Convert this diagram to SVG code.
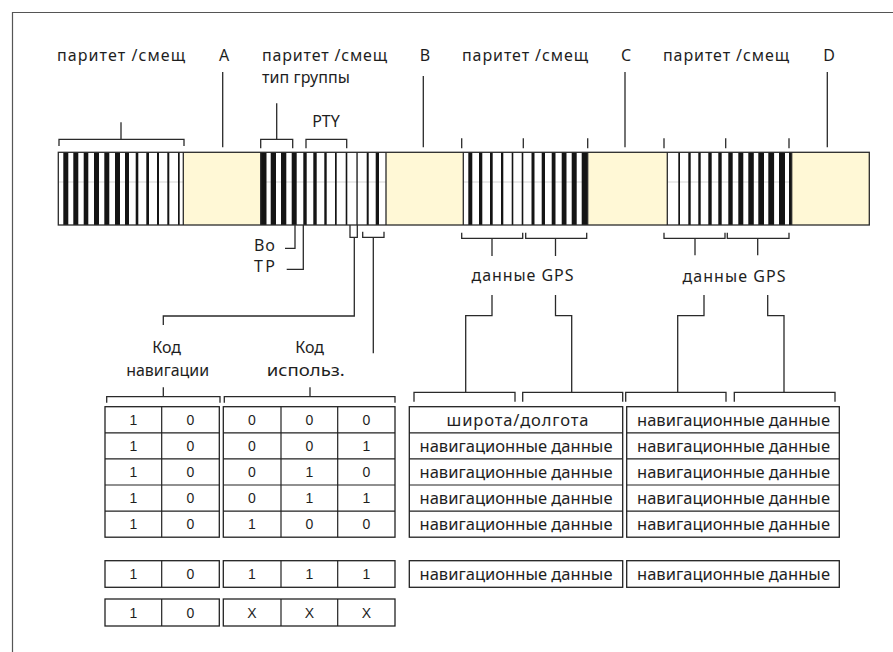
<svg xmlns="http://www.w3.org/2000/svg" width="893" height="652" viewBox="0 0 893 652">
  <style>
    .ln { fill: none; stroke: #2a2a2a; stroke-width: 1.3; }
    .frame { fill: none; stroke: #555; stroke-width: 1.2; }
    .lbl { font-family: "Noto Sans", "Open Sans", sans-serif; font-size: 16px; fill: #1e1e1e; }
    .cell { font-family: "Liberation Sans", Arial, sans-serif; font-size: 14px; fill: #1e1e1e; text-anchor: middle; }
    .nav { font-family: "Noto Sans", "Open Sans", sans-serif; font-size: 16.5px; fill: #1e1e1e; text-anchor: middle; }
    .tbl { fill: #fff; stroke: #222; stroke-width: 1.3; }
    .sep { stroke: #222; stroke-width: 1.2; }
    .yel { fill: #fff8d6; }
    .blk { fill: #141414; }
    .mid { stroke: #bbb; stroke-width: 0.6; }
  </style>

  <!-- outer frame -->
  <path class="frame" d="M12.5,652 V12.5 H893"/>

  <!-- top labels -->
  <g id="labels-top">
    <text class="lbl" x="121" y="60.7" text-anchor="middle" textLength="128" lengthAdjust="spacing">паритет /смещ</text>
    <text class="lbl" x="224" y="60.7" text-anchor="middle">A</text>
    <text class="lbl" x="262" y="60.7" textLength="125" lengthAdjust="spacing">паритет /смещ</text>
    <text class="lbl" x="262" y="83.3" textLength="88" lengthAdjust="spacing">тип группы</text>
    <text class="lbl" x="425" y="60.7" text-anchor="middle">B</text>
    <text class="lbl" x="525" y="60.7" text-anchor="middle" textLength="126" lengthAdjust="spacing">паритет /смещ</text>
    <text class="lbl" x="626" y="60.7" text-anchor="middle">C</text>
    <text class="lbl" x="726" y="60.7" text-anchor="middle" textLength="126" lengthAdjust="spacing">паритет /смещ</text>
    <text class="lbl" x="829" y="60.7" text-anchor="middle">D</text>
    <text class="lbl" x="326" y="126.7" text-anchor="middle">PTY</text>
  </g>

  <!-- data bar -->
  <g id="bar">
    <rect x="58.3" y="152.3" width="811" height="72.7" fill="#fff"/>
    <rect class="yel" x="183.3" y="152.3" width="77.4" height="72.7"/>
    <rect class="yel" x="386" y="152.3" width="77.3" height="72.7"/>
    <rect class="yel" x="587.7" y="152.3" width="79.6" height="72.7"/>
    <rect class="yel" x="791.7" y="152.3" width="77.6" height="72.7"/>
    <!-- faint mid line through striped blocks -->
    <path class="mid" d="M58.3,182 H183.3 M260.7,182 H386 M463.3,182 H587.7 M667.3,182 H791.7"/>
    <!-- block 1 -->
    <rect class="blk" x="63.3" y="152.3" width="5" height="72.7"/>
    <rect class="blk" x="73.3" y="152.3" width="5" height="72.7"/>
    <rect class="blk" x="83.7" y="152.3" width="4.6" height="72.7"/>
    <rect class="blk" x="94" y="152.3" width="5" height="72.7"/>
    <rect class="blk" x="104.3" y="152.3" width="5" height="72.7"/>
    <rect class="blk" x="115" y="152.3" width="5" height="72.7"/>
    <rect class="blk" x="125" y="152.3" width="4" height="72.7"/>
    <rect class="blk" x="135.7" y="152.3" width="2.6" height="72.7"/>
    <rect class="blk" x="146.3" y="152.3" width="2.7" height="72.7"/>
    <rect class="blk" x="157" y="152.3" width="2" height="72.7"/>
    <rect class="blk" x="167.3" y="152.3" width="2" height="72.7"/>
    <rect class="blk" x="178" y="152.3" width="1.7" height="72.7"/>
    <!-- block 2 -->
    <rect class="blk" x="261" y="152.3" width="5.5" height="72.7"/>
    <rect class="blk" x="270.7" y="152.3" width="5.3" height="72.7"/>
    <rect class="blk" x="281" y="152.3" width="5.3" height="72.7"/>
    <rect class="blk" x="291.7" y="152.3" width="5" height="72.7"/>
    <rect class="blk" x="303.3" y="152.3" width="3.4" height="72.7"/>
    <rect class="blk" x="313.3" y="152.3" width="3.4" height="72.7"/>
    <rect class="blk" x="324.3" y="152.3" width="2.4" height="72.7"/>
    <rect class="blk" x="335" y="152.3" width="1.7" height="72.7"/>
    <rect class="blk" x="345.7" y="152.3" width="1.6" height="72.7"/>
    <rect class="blk" x="356.4" y="152.3" width="1.3" height="72.7"/>
    <rect class="blk" x="366.7" y="152.3" width="2" height="72.7"/>
    <rect class="blk" x="375.7" y="152.3" width="3.3" height="72.7"/>
    <!-- block 3 -->
    <rect class="blk" x="468.3" y="152.3" width="4" height="72.7"/>
    <rect class="blk" x="479" y="152.3" width="3.3" height="72.7"/>
    <rect class="blk" x="490" y="152.3" width="2.7" height="72.7"/>
    <rect class="blk" x="501" y="152.3" width="2.3" height="72.7"/>
    <rect class="blk" x="511.7" y="152.3" width="1.6" height="72.7"/>
    <rect class="blk" x="521.7" y="152.3" width="1.6" height="72.7"/>
    <rect class="blk" x="531.5" y="152.3" width="3" height="72.7"/>
    <rect class="blk" x="541.7" y="152.3" width="3.3" height="72.7"/>
    <rect class="blk" x="551.7" y="152.3" width="3.8" height="72.7"/>
    <rect class="blk" x="561.7" y="152.3" width="4.8" height="72.7"/>
    <rect class="blk" x="571.7" y="152.3" width="5" height="72.7"/>
    <rect class="blk" x="581.7" y="152.3" width="6" height="72.7"/>
    <!-- block 4 -->
    <rect class="blk" x="678.3" y="152.3" width="1.7" height="72.7"/>
    <rect class="blk" x="688.3" y="152.3" width="2.4" height="72.7"/>
    <rect class="blk" x="698.3" y="152.3" width="2.4" height="72.7"/>
    <rect class="blk" x="708.3" y="152.3" width="3.4" height="72.7"/>
    <rect class="blk" x="718.3" y="152.3" width="3.4" height="72.7"/>
    <rect class="blk" x="728.3" y="152.3" width="4.4" height="72.7"/>
    <rect class="blk" x="738.3" y="152.3" width="5" height="72.7"/>
    <rect class="blk" x="748.3" y="152.3" width="5.5" height="72.7"/>
    <rect class="blk" x="758.3" y="152.3" width="5.7" height="72.7"/>
    <rect class="blk" x="768.3" y="152.3" width="5.8" height="72.7"/>
    <rect class="blk" x="779" y="152.3" width="6" height="72.7"/>
    <rect class="blk" x="789" y="152.3" width="2.7" height="72.7"/>
    <!-- outline and block borders -->
    <rect class="ln" x="58.3" y="152.3" width="811" height="72.7"/>
    <path class="ln" d="M183.3,152.3 V225 M260.7,152.3 V225 M386,152.3 V225 M463.3,152.3 V225 M587.7,152.3 V225 M667.3,152.3 V225 M791.7,152.3 V225"/>
  </g>

  <!-- connectors, brackets and ticks -->
  <g id="connectors" class="ln">
    <!-- letter leaders -->
    <path d="M222.7,72 V147.3 M423.3,76 V147.3 M625,72 V147.3 M827.3,72 V147.3"/>
    <!-- brackets above the bar -->
    <path d="M59,146 V139.3 H184 V146 M121,139.3 V122.3"/>
    <path d="M260.7,148.3 V139.3 H292.7 V148.3 M276.7,139.3 V103.3"/>
    <path d="M306,148.3 V139.3 H346.7 V148.3"/>
    <path d="M461.7,138.3 V148.3 M523.3,138.3 V148.3 M587.7,138.3 V148.3"/>
    <path d="M664,138.3 V148.3 M725.7,138.3 V148.3 M789,138.3 V148.3"/>
    <!-- Bo / TP leaders -->
    <path d="M295,225 V248.3 H285"/>
    <path d="M303.3,225 V269.3 H286.7"/>
    <!-- navigation code pick-off -->
    <path d="M350,225 V237.3 H357.3 V225"/>
    <path d="M354.3,237.3 V316 H163.3 V325"/>
    <!-- usage code pick-off -->
    <path d="M362.7,231.7 V237.3 H384 V231.7 M373.3,237.3 V353.3"/>
    <!-- GPS brackets under block 3 -->
    <path d="M461.7,232.7 V238.3 H522.7 V232.7 M492,238.3 V256"/>
    <path d="M525.7,232.7 V238.3 H586.7 V232.7 M555.5,238.3 V256"/>
    <!-- GPS brackets under block 4 -->
    <path d="M664,232.7 V238.3 H725 V232.7 M695,238.3 V255.3"/>
    <path d="M727.3,232.7 V238.3 H789 V232.7 M757.7,238.3 V255.3"/>
    <!-- GPS leaders down to tables -->
    <path d="M492,295 V315.7 H465.7 V392.3"/>
    <path d="M555.5,295 V315.7 H571.7 V392.3"/>
    <path d="M704,295 V315.7 H677.7 V392.3"/>
    <path d="M767.7,295 V315.7 H784 V392.3"/>
    <!-- brackets over right tables -->
    <path d="M414,401.7 V392.3 H515 V401.7"/>
    <path d="M522.7,401.7 V392.3 H622.7 V401.7"/>
    <path d="M625.7,401.7 V392.3 H726 V401.7"/>
    <path d="M734.3,401.7 V392.3 H835 V401.7"/>
    <!-- brackets over left tables -->
    <path d="M106.7,402.7 V396.7 H220 V402.7 M163.3,396.7 V387.3"/>
    <path d="M224.3,402.7 V396.7 H395 V402.7 M310,396.7 V387.3"/>
  </g>

  <!-- labels below the bar -->
  <g id="labels-bottom">
    <text class="lbl" x="254" y="250.7" textLength="21" lengthAdjust="spacing">Bo</text>
    <text class="lbl" x="254" y="271.7" textLength="21" lengthAdjust="spacing">TP</text>
    <text class="lbl" x="522.5" y="281" text-anchor="middle" textLength="102" lengthAdjust="spacing">данные GPS</text>
    <text class="lbl" x="734" y="281.7" text-anchor="middle" textLength="103" lengthAdjust="spacing">данные GPS</text>
    <text class="lbl" x="166.7" y="353.3" text-anchor="middle">Код</text>
    <text class="lbl" x="167.7" y="376" text-anchor="middle" textLength="83" lengthAdjust="spacingAndGlyphs">навигации</text>
    <text class="lbl" x="309.7" y="353.3" text-anchor="middle">Код</text>
    <text class="lbl" x="305.8" y="376" text-anchor="middle" textLength="78" lengthAdjust="spacingAndGlyphs">использ.</text>
  </g>

  <!-- navigation code table -->
  <g id="table-nav">
    <rect class="tbl" x="105" y="406.7" width="114.3" height="130.5"/>
    <rect class="tbl" x="105" y="560.7" width="114.3" height="26.6"/>
    <rect class="tbl" x="105" y="599" width="114.3" height="27"/>
    <path class="sep" d="M161.7,406.7 V537.2 M105,432.8 H219.3 M105,458.9 H219.3 M105,485 H219.3 M105,511.1 H219.3 M161.7,560.7 V587.3 M161.7,599 V626"/>
    <text class="cell" x="133.3" y="425">1</text><text class="cell" x="190.5" y="425">0</text>
    <text class="cell" x="133.3" y="451.1">1</text><text class="cell" x="190.5" y="451.1">0</text>
    <text class="cell" x="133.3" y="477.2">1</text><text class="cell" x="190.5" y="477.2">0</text>
    <text class="cell" x="133.3" y="503.3">1</text><text class="cell" x="190.5" y="503.3">0</text>
    <text class="cell" x="133.3" y="529.4">1</text><text class="cell" x="190.5" y="529.4">0</text>
    <text class="cell" x="133.3" y="579">1</text><text class="cell" x="190.5" y="579">0</text>
    <text class="cell" x="133.3" y="617.5">1</text><text class="cell" x="190.5" y="617.5">0</text>
  </g>

  <!-- usage code table -->
  <g id="table-usage">
    <rect class="tbl" x="223.3" y="406.7" width="171.7" height="130.5"/>
    <rect class="tbl" x="223.3" y="560.7" width="171.7" height="26.6"/>
    <rect class="tbl" x="223.3" y="599" width="171.7" height="27"/>
    <path class="sep" d="M281,406.7 V537.2 M337.7,406.7 V537.2 M223.3,432.8 H395 M223.3,458.9 H395 M223.3,485 H395 M223.3,511.1 H395 M281,560.7 V587.3 M337.7,560.7 V587.3 M281,599 V626 M337.7,599 V626"/>
    <text class="cell" x="252" y="425">0</text><text class="cell" x="309.3" y="425">0</text><text class="cell" x="366.3" y="425">0</text>
    <text class="cell" x="252" y="451.1">0</text><text class="cell" x="309.3" y="451.1">0</text><text class="cell" x="366.3" y="451.1">1</text>
    <text class="cell" x="252" y="477.2">0</text><text class="cell" x="309.3" y="477.2">1</text><text class="cell" x="366.3" y="477.2">0</text>
    <text class="cell" x="252" y="503.3">0</text><text class="cell" x="309.3" y="503.3">1</text><text class="cell" x="366.3" y="503.3">1</text>
    <text class="cell" x="252" y="529.4">1</text><text class="cell" x="309.3" y="529.4">0</text><text class="cell" x="366.3" y="529.4">0</text>
    <text class="cell" x="252" y="579">1</text><text class="cell" x="309.3" y="579">1</text><text class="cell" x="366.3" y="579">1</text>
    <text class="cell" x="252" y="617.5">X</text><text class="cell" x="309.3" y="617.5">X</text><text class="cell" x="366.3" y="617.5">X</text>
  </g>

  <!-- GPS data table, block C side -->
  <g id="table-gps-left">
    <rect class="tbl" x="409.3" y="406.7" width="213.4" height="130.5"/>
    <rect class="tbl" x="409.3" y="560.7" width="213.4" height="26.6"/>
    <path class="sep" d="M409.3,432.8 H622.7 M409.3,458.9 H622.7 M409.3,485 H622.7 M409.3,511.1 H622.7"/>
    <text class="nav" x="517.5" y="426" textLength="142" lengthAdjust="spacing">широта/долгота</text>
    <text class="nav" x="516" y="452.1" textLength="193" lengthAdjust="spacing">навигационные данные</text>
    <text class="nav" x="516" y="478.2" textLength="193" lengthAdjust="spacing">навигационные данные</text>
    <text class="nav" x="516" y="504.3" textLength="193" lengthAdjust="spacing">навигационные данные</text>
    <text class="nav" x="516" y="530.4" textLength="193" lengthAdjust="spacing">навигационные данные</text>
    <text class="nav" x="516" y="580" textLength="193" lengthAdjust="spacing">навигационные данные</text>
  </g>

  <!-- GPS data table, block D side -->
  <g id="table-gps-right">
    <rect class="tbl" x="626.7" y="406.7" width="212.6" height="130.5"/>
    <rect class="tbl" x="626.7" y="560.7" width="212.6" height="26.6"/>
    <path class="sep" d="M626.7,432.8 H839.3 M626.7,458.9 H839.3 M626.7,485 H839.3 M626.7,511.1 H839.3"/>
    <text class="nav" x="733.5" y="426" textLength="193" lengthAdjust="spacing">навигационные данные</text>
    <text class="nav" x="733.5" y="452.1" textLength="193" lengthAdjust="spacing">навигационные данные</text>
    <text class="nav" x="733.5" y="478.2" textLength="193" lengthAdjust="spacing">навигационные данные</text>
    <text class="nav" x="733.5" y="504.3" textLength="193" lengthAdjust="spacing">навигационные данные</text>
    <text class="nav" x="733.5" y="530.4" textLength="193" lengthAdjust="spacing">навигационные данные</text>
    <text class="nav" x="733.5" y="580" textLength="193" lengthAdjust="spacing">навигационные данные</text>
  </g>
</svg>
